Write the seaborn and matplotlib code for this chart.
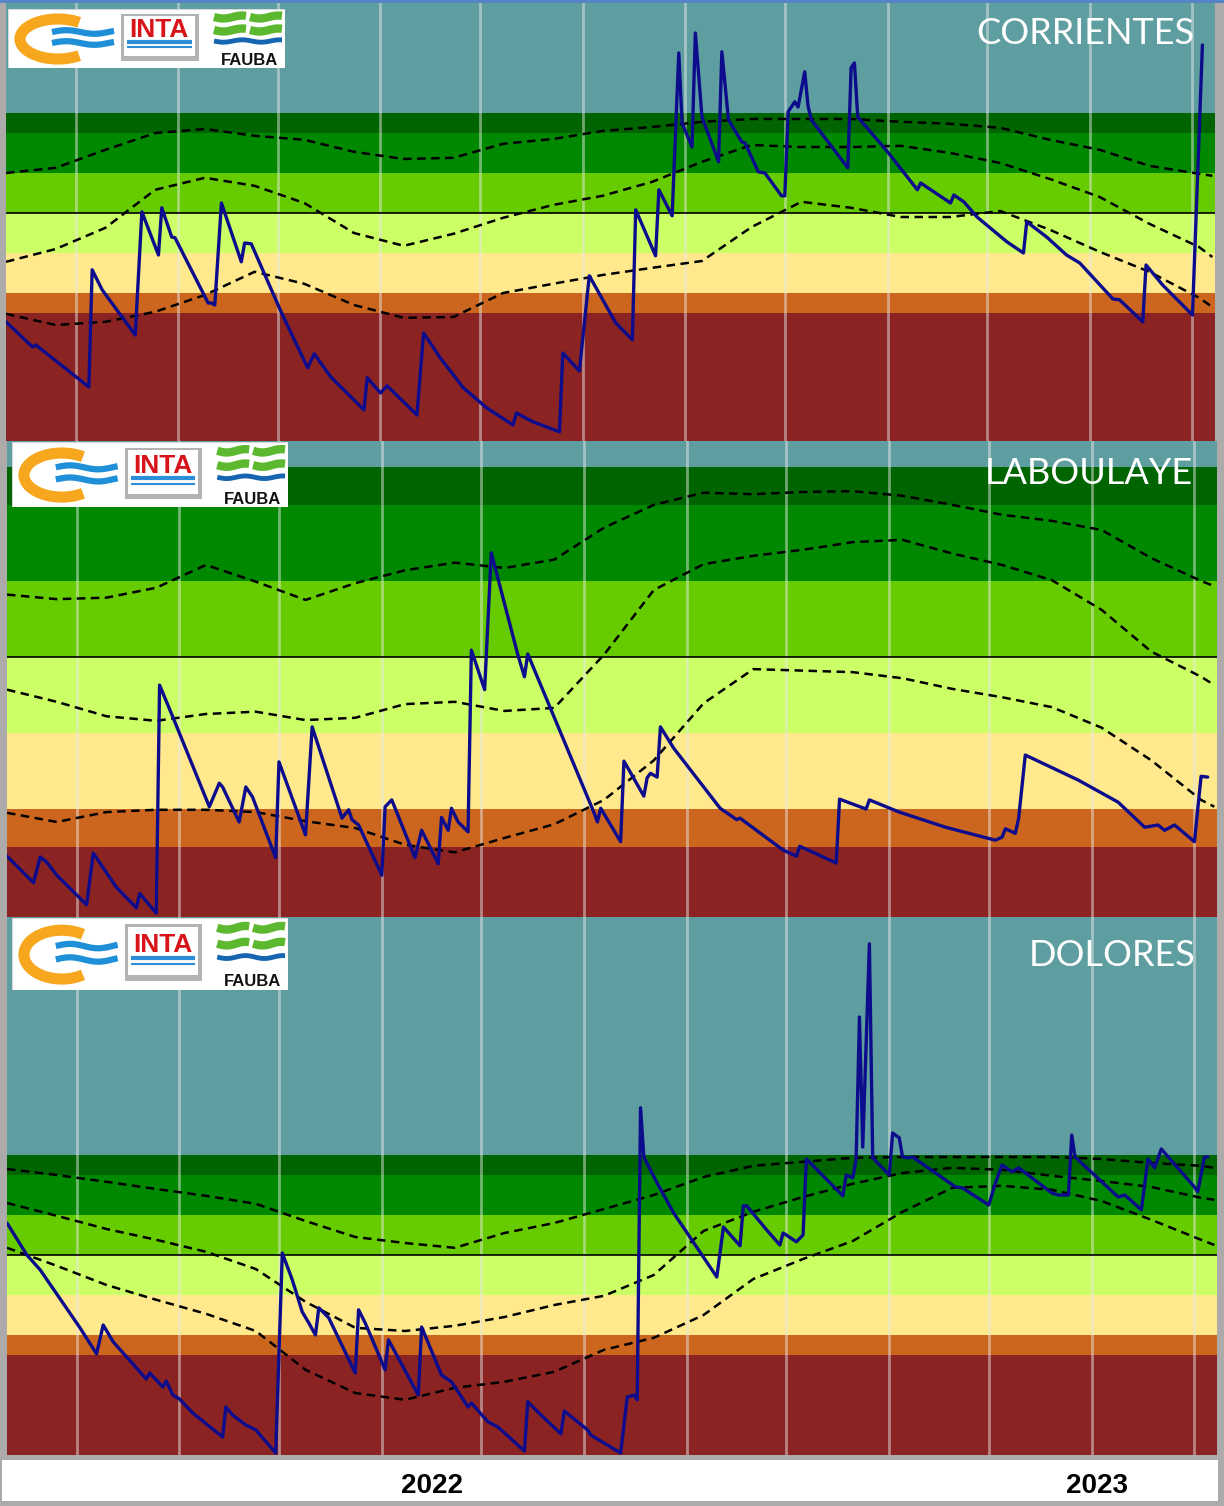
import numpy as np
import pandas as pd
import matplotlib
matplotlib.use("Agg")
from matplotlib import pyplot as plt
from matplotlib.patches import Rectangle, Arc
import seaborn as sns

# Serie diaria de agua util (dias desde 2022-02-08) y percentiles historicos
INICIO = pd.Timestamp("2022-02-08")

dias_corr = [0, 8, 9, 25, 26, 29, 39, 41, 46, 47, 50, 51, 61, 62, 63, 65, 71, 72, 74, 83,
             91, 93, 98, 108, 109, 113, 115, 124, 126, 131, 138, 145, 153, 154, 159, 167, 168, 173, 176, 184,
             189, 190, 196, 197, 201, 203, 204, 207, 208, 210, 215, 216, 218, 222, 223, 227, 229, 234, 235, 236,
             238, 239, 241, 242, 243, 254, 255, 256, 257, 266, 275, 276, 285, 286, 289, 293, 302, 307, 308, 314,
             320, 324, 334, 336, 343, 344, 349, 358, 361]
agua_corr = [29.8, 23.5, 24.0, 13.5, 42.8, 37.8, 26.5, 57.3, 46.5, 58.3, 51.0, 50.8, 34.5, 34.5, 34.0, 59.5, 44.8, 49.5, 49.3, 32.3,
             18.3, 21.8, 16.0, 7.8, 15.8, 12.0, 13.8, 6.5, 27.0, 20.8, 13.3, 8.3, 4.0, 7.0, 4.8, 2.3, 22.0, 17.5, 41.3, 29.5,
             25.3, 57.8, 46.3, 62.8, 56.3, 97.0, 79.5, 73.5, 102.0, 81.0, 69.8, 97.3, 80.3, 74.8, 74.5, 67.3, 67.0, 61.3, 61.3, 82.3,
             84.8, 83.5, 92.3, 83.8, 80.3, 68.3, 93.3, 94.5, 81.0, 72.3, 62.8, 64.5, 59.5, 61.5, 59.8, 56.0, 49.8, 47.0, 54.8, 51.0,
             46.5, 44.5, 35.5, 35.3, 29.8, 44.0, 39.0, 31.5, 99.0]

dias_lab = [0, 8, 10, 12, 15, 24, 26, 33, 39, 40, 45, 46, 50, 61, 64, 65, 70, 72, 74, 81,
            82, 90, 92, 101, 103, 104, 106, 113, 114, 116, 123, 125, 130, 131, 133, 134, 136, 139, 140, 144,
            146, 154, 156, 157, 177, 178, 179, 185, 186, 192, 193, 194, 196, 197, 201, 215, 220, 221, 234, 238,
            239, 250, 251, 259, 260, 269, 283, 298, 300, 301, 304, 305, 307, 323, 335, 343, 347, 349, 352, 358,
            360, 362]
agua_lab = [30.8, 27.3, 30.7, 30.0, 28.3, 24.4, 31.2, 26.7, 24.0, 25.9, 23.3, 53.3, 49.1, 37.3, 40.4, 39.9, 35.3, 39.9, 38.6, 30.6,
            43.2, 33.6, 47.8, 35.8, 36.9, 35.6, 34.9, 28.3, 37.3, 38.2, 30.6, 34.2, 29.8, 35.9, 34.2, 37.1, 35.3, 34.0, 57.9, 52.7,
            70.7, 57.3, 54.4, 57.4, 36.5, 35.3, 37.1, 32.7, 43.3, 38.7, 41.1, 41.7, 41.2, 47.8, 45.0, 37.1, 35.6, 35.8, 31.6, 30.8,
            32.1, 29.9, 38.3, 37.0, 38.2, 36.6, 34.6, 32.9, 33.3, 34.4, 33.8, 35.8, 44.1, 40.8, 37.9, 34.6, 34.9, 34.2, 34.9, 32.7,
            41.3, 41.2]

dias_dol = [0, 6, 10, 22, 27, 29, 32, 42, 43, 47, 48, 50, 52, 56, 65, 66, 68, 72, 75, 81,
            83, 86, 89, 91, 93, 94, 97, 105, 106, 108, 114, 115, 124, 125, 127, 131, 134, 139, 140, 145,
            148, 156, 157, 161, 167, 168, 175, 176, 185, 187, 189, 190, 191, 192, 196, 201, 214, 216, 221, 222,
            223, 229, 233, 234, 238, 240, 241, 252, 253, 255, 256, 257, 258, 260, 261, 266, 267, 269, 270, 272,
            273, 286, 288, 296, 298, 300, 303, 305, 315, 317, 320, 321, 322, 335, 337, 342, 344, 346, 348, 358,
            359, 361, 362]
agua_dol = [65.0, 57.0, 53.3, 38.8, 32.3, 39.5, 35.3, 26.0, 27.5, 24.0, 25.5, 22.0, 21.0, 17.5, 11.5, 19.0, 17.0, 14.5, 13.3, 7.5,
            57.5, 50.8, 42.8, 40.0, 37.0, 43.8, 41.3, 27.5, 43.3, 40.0, 28.3, 35.8, 22.0, 39.0, 35.0, 27.0, 25.3, 19.0, 20.0, 15.3,
            14.0, 8.0, 20.3, 17.0, 12.3, 18.0, 13.3, 12.0, 7.5, 21.5, 22.0, 20.8, 93.8, 81.5, 75.0, 67.5, 51.5, 64.0, 59.3, 69.3,
            69.3, 63.3, 59.5, 62.5, 60.3, 62.0, 81.0, 71.8, 77.0, 76.3, 81.0, 116.5, 84.0, 134.8, 81.3, 77.0, 87.5, 86.3, 81.5, 81.3,
            81.5, 74.0, 73.8, 69.5, 75.0, 79.5, 77.8, 78.8, 72.5, 72.0, 72.0, 87.0, 81.5, 71.5, 72.0, 68.3, 81.0, 78.8, 83.5, 74.0,
            72.8, 81.5, 81.5]

# percentiles (curvas punteadas)
dias_pct = [0, 15, 30, 45, 60, 75, 90, 105, 120, 135, 150, 165, 180, 195, 210, 225, 240, 255, 270, 285, 300, 315, 330, 345, 360, 364]

p_sup_corr = [67.0, 68.3, 72.8, 77.0, 78.0, 76.3, 75.3, 72.3, 70.5, 70.8, 74.3, 75.5, 77.5, 78.5, 79.8, 80.5, 80.5, 80.5, 79.8, 79.3, 78.3, 75.3, 72.8, 68.8, 66.8, 66.3]
p_med_corr = [44.8, 48.0, 53.3, 62.8, 65.8, 63.8, 59.5, 52.0, 48.8, 51.8, 55.8, 59.0, 61.3, 64.8, 69.8, 74.0, 73.5, 73.5, 73.8, 72.0, 69.5, 65.5, 61.0, 54.3, 48.5, 46.0]
p_inf_corr = [31.8, 29.0, 29.8, 32.3, 36.5, 42.3, 39.3, 34.0, 30.8, 31.0, 37.0, 39.3, 41.5, 43.3, 45.0, 53.5, 59.8, 58.3, 56.0, 56.0, 57.5, 52.8, 47.3, 42.3, 35.8, 33.5]

p_sup_lab = [65.2, 64.6, 64.8, 66.1, 69.1, 66.9, 64.5, 66.7, 68.4, 69.4, 68.7, 69.8, 74.0, 77.0, 78.6, 78.4, 78.7, 78.8, 78.2, 77.0, 75.7, 74.9, 73.7, 70.0, 67.0, 66.3]
p_med_lab = [52.7, 51.1, 49.2, 48.6, 49.5, 49.8, 48.7, 49.0, 50.8, 51.1, 49.9, 50.3, 57.3, 65.8, 69.2, 70.3, 71.1, 72.1, 72.4, 70.6, 69.1, 67.1, 63.2, 57.7, 54.4, 53.3]
p_inf_lab = [36.5, 35.3, 36.6, 36.9, 36.9, 36.6, 35.4, 34.5, 32.3, 31.3, 33.2, 35.0, 38.2, 43.4, 50.9, 55.4, 55.2, 55.0, 54.2, 52.8, 51.7, 50.4, 47.7, 43.4, 38.2, 37.3]

p_sup_dol = [78.5, 77.0, 75.3, 73.5, 71.8, 69.8, 65.5, 61.5, 60.0, 58.8, 62.5, 65.0, 68.5, 72.0, 76.5, 79.3, 80.3, 81.3, 81.5, 81.5, 81.5, 81.5, 81.0, 80.0, 79.3, 78.8]
p_med_dol = [70.0, 66.8, 63.5, 60.8, 57.8, 53.5, 45.3, 38.8, 38.0, 39.3, 41.5, 44.5, 46.8, 52.0, 63.0, 67.8, 71.5, 74.8, 77.5, 78.8, 78.3, 76.8, 75.5, 74.0, 71.3, 70.8]
p_inf_dol = [58.8, 54.3, 49.5, 45.8, 42.3, 38.0, 28.3, 22.5, 20.8, 23.8, 25.3, 27.8, 33.3, 36.3, 42.0, 51.0, 56.0, 60.5, 67.8, 73.8, 74.3, 73.3, 70.5, 65.8, 60.8, 59.5]

# limites de las categorias de agua util y sus colores (de seco a exceso)
limites = [32, 37, 47, 57, 67, 77, 82]
colores_banda = ["#8b2323", "#cc661e", "#ffe98c", "#ccff66", "#66cc00", "#008800", "#006400", "#5f9ea0"]
anios = ["2022", "2023"]

W, H = 1224, 1506
sns.set_theme(style="white")
plt.rcParams["font.family"] = ["Liberation Sans", "DejaVu Sans"]

fig = plt.figure(figsize=(W / 100, H / 100), dpi=100, facecolor="#adaaaa")


def px_axes(x0, y0, x1, y1):
    return fig.add_axes([x0 / W, 1 - y1 / H, (x1 - x0) / W, (y1 - y0) / H])


def a_fecha(dias):
    return INICIO + pd.to_timedelta(dias, unit="D")


def dibujar_logo(ax):
    ax.set_xlim(0, 277)
    ax.set_ylim(59, 0)
    ax.set_axis_off()
    ax.add_patch(Rectangle((0, 0), 277, 59, fc="white", ec="#d8d8d8", lw=0.8))
    # anillo naranja + ondas azules
    ax.add_patch(Arc((50, 30), 76, 40, theta1=38, theta2=322, lw=8, color="#f7a71d"))
    xs = np.linspace(44, 106, 40)
    for y0 in (23, 34):
        ax.plot(xs, y0 - 1.8 * np.sin((xs - 44) / 9), color="#1f90d8", lw=4.5, solid_capstyle="butt")
    # INTA
    ax.add_patch(Rectangle((113, 5), 78, 47, fc="#b3b3b3", ec="none"))
    ax.add_patch(Rectangle((116, 7), 71, 40, fc="white", ec="none"))
    ax.text(151, 28, "INTA", color="#d7141a", fontsize=19, fontweight="bold", ha="center",
            va="baseline", family=["Liberation Sans Narrow", "Liberation Sans"])
    ax.plot([119, 184], [33, 33], color="#2a8fd8", lw=3, solid_capstyle="butt")
    ax.plot([119, 184], [38, 38], color="#2a8fd8", lw=1.5, solid_capstyle="butt")
    # FAUBA
    for x0, x1 in ((206, 238), (242, 274)):
        xg = np.linspace(x0, x1, 20)
        for y0 in (8, 21):
            ax.plot(xg, y0 + 1.5 * np.sin((xg - x0) / 6), color="#5cb82e", lw=6, solid_capstyle="butt")
    xb = np.linspace(206, 274, 30)
    ax.plot(xb, 32 + 1.2 * np.sin((xb - 206) / 6), color="#1565b0", lw=3.5, solid_capstyle="butt")
    ax.text(241, 56, "FAUBA", color="#111111", fontsize=12, fontweight="bold", ha="center", va="baseline")


paneles = [
    dict(nombre="CORRIENTES", dias=dias_corr, agua=agua_corr, pct=(p_sup_corr, p_med_corr, p_inf_corr),
         ylim=(0, 109.5), caja=(6, 3, 1215, 441), logo=(8, 9, 285, 68), titulo=(0.983, 0.9075)),
    dict(nombre="LABOULAYE", dias=dias_lab, agua=agua_lab, pct=(p_sup_lab, p_med_lab, p_inf_lab),
         ylim=(22.8, 85.4), caja=(7, 441, 1217, 917), logo=(12, 442, 288, 507), titulo=(0.980, 0.9097)),
    dict(nombre="DOLORES", dias=dias_dol, agua=agua_dol, pct=(p_sup_dol, p_med_dol, p_inf_dol),
         ylim=(7, 141.5), caja=(7, 917, 1217, 1455), logo=(12, 918, 288, 990), titulo=(0.982, 0.909)),
]

meses = pd.date_range("2022-03-01", "2023-02-01", freq="MS")
bordes = [-1000] + limites + [1000]

for p in paneles:
    ax = px_axes(*p["caja"])
    for lo, hi, c in zip(bordes[:-1], bordes[1:], colores_banda):
        ax.axhspan(lo, hi, color=c, lw=0, zorder=0)
    for m in meses:
        ax.axvline(m, color="#e6e6e6", alpha=0.5, lw=2, zorder=1)
    ax.axhline(limites[3], color="black", lw=1.2, zorder=2)

    df_pct = pd.DataFrame({"fecha": a_fecha(dias_pct), "sup": p["pct"][0],
                           "med": p["pct"][1], "inf": p["pct"][2]})
    for col in ["sup", "med", "inf"]:
        sns.lineplot(data=df_pct, x="fecha", y=col, ax=ax, color="black", lw=1.8,
                     linestyle=(0, (3.4, 2.2)), zorder=3, legend=False)

    df = pd.DataFrame({"fecha": a_fecha(p["dias"]), "agua": p["agua"]})
    sns.lineplot(data=df, x="fecha", y="agua", ax=ax, color="#0c0c8c", lw=2.4, zorder=4, legend=False)

    ax.set_xlim(INICIO, INICIO + pd.Timedelta(days=364.8))
    ax.set_ylim(*p["ylim"])
    ax.set_axis_off()
    ax.text(p["titulo"][0], p["titulo"][1], p["nombre"], transform=ax.transAxes, ha="right",
            va="baseline", color="white", fontsize=26, family=["Lato", "DejaVu Sans"])

    lax = px_axes(*p["logo"])
    dibujar_logo(lax)

# franja inferior con los anios
fig.patches.append(Rectangle((2 / W, 1 - 1501 / H), 1216 / W, 41 / H, transform=fig.transFigure,
                             fc="white", ec="none", zorder=0))
fig.patches.append(Rectangle((0, 1 - 3 / H), 1, 3 / H, transform=fig.transFigure,
                             fc="#5585c4", ec="none", zorder=0))
for anio, xp in zip(anios, [432, 1097]):
    fig.text(xp / W, 1 - 1493 / H, anio, ha="center", va="baseline", fontsize=20,
             fontweight="bold", color="black")

fig.savefig("out.png", dpi=100, facecolor=fig.get_facecolor())
